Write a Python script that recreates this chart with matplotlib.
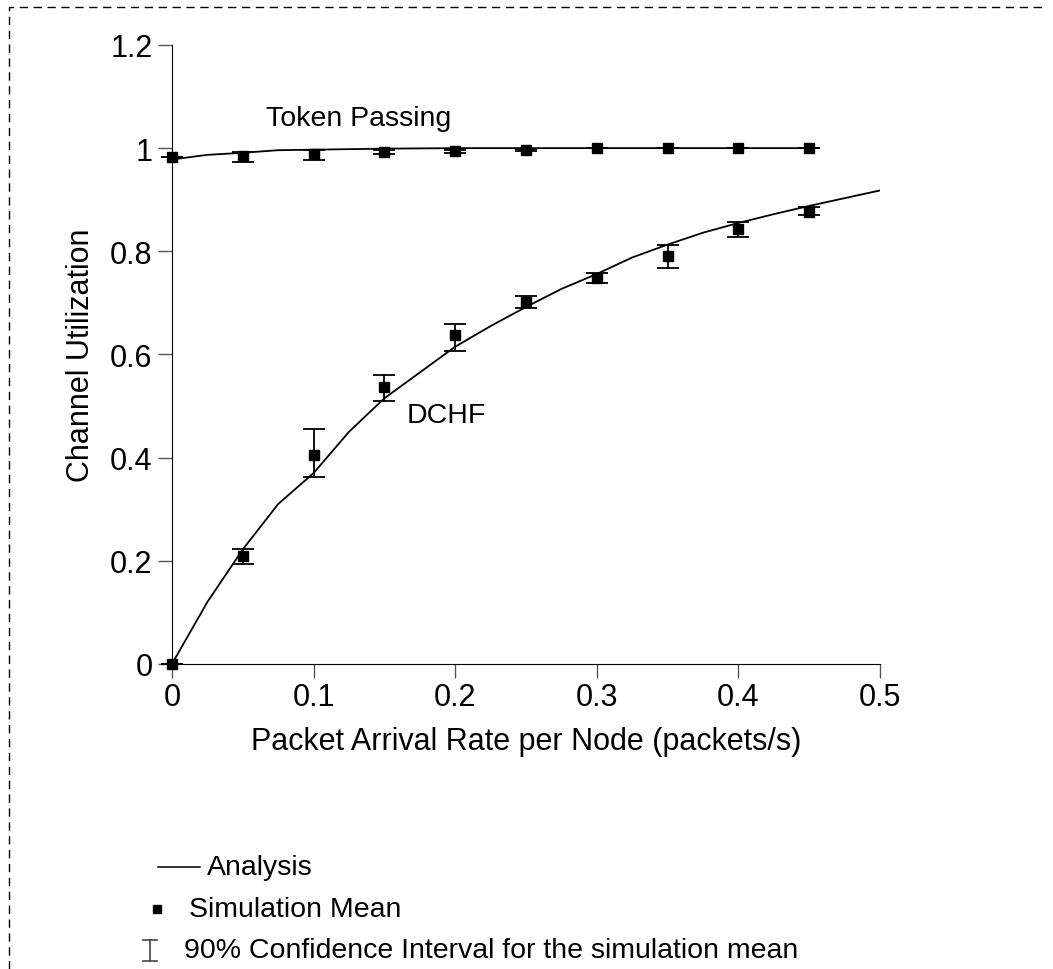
import numpy as np
import matplotlib
matplotlib.use("Agg")
import matplotlib.pyplot as plt
from matplotlib.lines import Line2D

plt.rcParams['font.family'] = ['Liberation Sans', 'DejaVu Sans']

# analysis curves
dchf_x = [0, 0.025, 0.05, 0.075, 0.1, 0.125, 0.15, 0.175, 0.2, 0.225, 0.25,
          0.275, 0.3, 0.325, 0.35, 0.375, 0.4, 0.425, 0.45, 0.475, 0.5]
dchf_y = [0, 0.12, 0.222, 0.31, 0.37, 0.45, 0.515, 0.565, 0.615, 0.655, 0.692,
          0.727, 0.756, 0.788, 0.813, 0.836, 0.855, 0.872, 0.888, 0.903, 0.918]
token_x = [0, 0.025, 0.05, 0.075, 0.1, 0.15, 0.2, 0.25, 0.3, 0.35, 0.4, 0.455]
token_y = [0.978, 0.987, 0.991, 0.996, 0.997, 0.999, 1.0, 1.0, 1.0, 1.0, 1.0, 1.0]

# simulation means and 90% confidence limits
sim_x = [0, 0.05, 0.1, 0.15, 0.2, 0.25, 0.3, 0.35, 0.4, 0.45]
dchf_mean = [0, 0.21, 0.405, 0.537, 0.638, 0.702, 0.748, 0.79, 0.843, 0.877]
dchf_lo = [0, 0.193, 0.362, 0.51, 0.606, 0.69, 0.738, 0.768, 0.828, 0.87]
dchf_hi = [0, 0.222, 0.455, 0.56, 0.66, 0.714, 0.758, 0.812, 0.856, 0.886]
token_mean = [0.982, 0.985, 0.988, 0.993, 0.994, 0.997, 1.0, 1.0, 1.0, 1.0]
token_lo = [0.982, 0.973, 0.977, 0.989, 0.99, 0.995, 1.0, 1.0, 1.0, 1.0]
token_hi = [0.982, 0.993, 0.996, 0.996, 0.997, 0.999, 1.0, 1.0, 1.0, 1.0]

fs = 22
fs_small = 20.5
fig = plt.figure(figsize=(10.53, 9.70), dpi=100)
ax = fig.add_axes([0.1633, 0.3145, 0.6724, 0.6381])

ax.plot(dchf_x, dchf_y, color='black', lw=1.3)
ax.plot(token_x, token_y, color='black', lw=1.3)

for mean, lo, hi in [(dchf_mean, dchf_lo, dchf_hi), (token_mean, token_lo, token_hi)]:
    m = np.array(mean)
    err = [m - np.array(lo), np.array(hi) - m]
    ax.errorbar(sim_x, m, yerr=err, fmt='s', color='black', ms=7,
                ecolor='black', elinewidth=1.3, capsize=8, capthick=1.3,
                clip_on=False)

ax.text(0.132, 1.058, 'Token Passing', fontsize=fs_small, ha='center', va='center')
ax.text(0.166, 0.482, 'DCHF', fontsize=fs_small, ha='left', va='center')

ax.set_xlim(0, 0.5)
ax.set_ylim(0, 1.2)
ax.set_xticks([0, 0.1, 0.2, 0.3, 0.4, 0.5])
ax.set_xticklabels(['0', '0.1', '0.2', '0.3', '0.4', '0.5'])
ax.set_yticks([0, 0.2, 0.4, 0.6, 0.8, 1, 1.2])
ax.set_yticklabels(['0', '0.2', '0.4', '0.6', '0.8', '1', '1.2'])
ax.tick_params(direction='out', length=10, width=1, labelsize=fs, pad=4, color='#555555')
ax.tick_params(axis='x', pad=3)
ax.spines['top'].set_visible(False)
ax.spines['right'].set_visible(False)
ax.set_xlabel('Packet Arrival Rate per Node (packets/s)', fontsize=fs, labelpad=10)
ax.set_ylabel('Channel Utilization', fontsize=fs, labelpad=10)

# legend drawn by hand below the axes
W, H = 1053, 970
fig.add_artist(Line2D([158 / W, 200 / W], [1 - 868 / H] * 2, color='black', lw=1.1))
fig.text(207 / W, 1 - 868 / H, 'Analysis', fontsize=fs_small, va='center')
fig.add_artist(Line2D([157 / W], [1 - 910 / H], marker='s', ms=6, color='black', lw=0))
fig.text(189 / W, 1 - 910 / H, 'Simulation Mean', fontsize=fs_small, va='center')
# I-shaped confidence interval symbol
ib = dict(color='#444444', lw=1.2)
fig.add_artist(Line2D([150 / W, 150 / W], [1 - 941 / H, 1 - 962 / H], **ib))
fig.add_artist(Line2D([143 / W, 157 / W], [1 - 941 / H] * 2, **ib))
fig.add_artist(Line2D([143 / W, 157 / W], [1 - 962 / H] * 2, **ib))
fig.text(184 / W, 1 - 951 / H, '90% Confidence Interval for the simulation mean', fontsize=fs_small, va='center')

# dashed frame on top and left
fig.add_artist(Line2D([9 / W, 9 / W, 1047 / W], [0, 1 - 8 / H, 1 - 8 / H],
                      color='black', lw=1, ls=(0, (6, 4))))

fig.savefig('out.png', dpi=100)
